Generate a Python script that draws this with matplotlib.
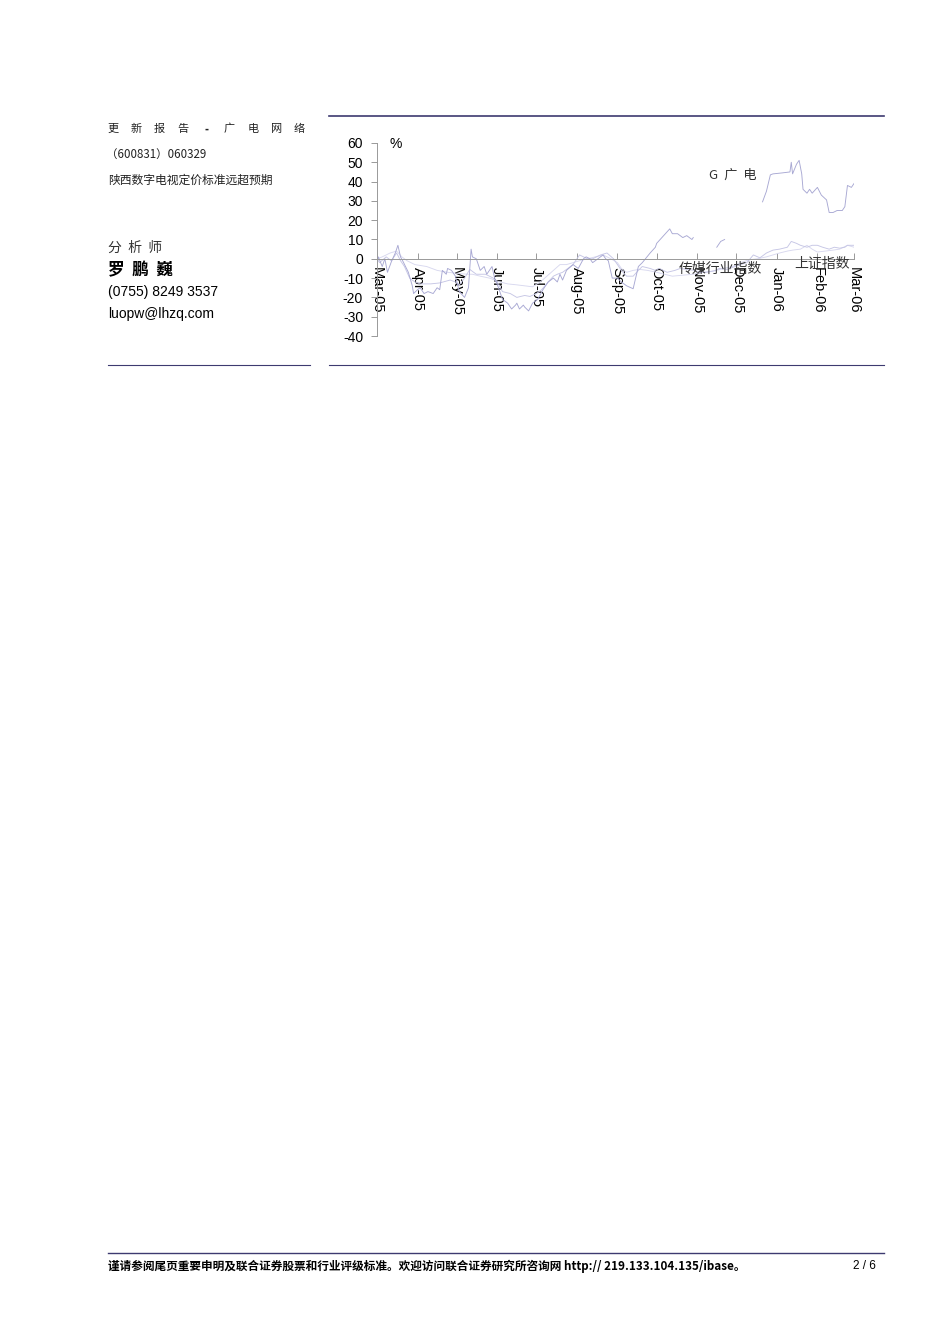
import numpy as np
import pandas as pd
import matplotlib
matplotlib.use('Agg')
import matplotlib.pyplot as plt

W, H = 950, 1344

# days since 2005-03-01 / percent change
gd_days = [0, 1, 4, 6, 8, 11, 14, 16, 18, 20, 24, 27, 28, 31, 33, 36, 39, 43, 46, 48,
           50, 53, 54, 57, 60, 63, 67, 70, 72, 73, 76, 79, 82, 84, 88, 90, 93, 96, 100, 103,
           106, 107, 109, 112, 113, 116, 119, 123, 127, 131, 135, 138, 140, 142, 145, 150, 154, 158, 160, 163,
           165, 169, 173, 175, 177, 180, 184, 187, 191, 196, 200, 203, 209, 213, 214, 218, 222, 224, 226, 230,
           234, 237, 241, 242, 243, 260, 263, 266, 267, 295, 298, 301, 303, 310, 316, 317, 318, 321, 323, 325,
           326, 329, 331, 333, 337, 340, 344, 346, 349, 352, 356, 358, 360, 363, 365]
gd_vals = [-2, 1, -4, 0, -7, -1.5, 3, 7, 1, -1.5, -7, -14, -18, -16, -15, -18, -17, -18, -15, -16,
           -6, -8, -5, -6, -9, -17, -20, -15, 5, 1, 0, -6, -4, -8, -4, -10, -15, -21, -23, -26,
           -24, -23, -26, -24, -25, -27, -23, -21, -16, -12, -10, -12, -8, -11, -6, -3, -5, 0, 1, 0,
           -2, 0, 2, 0, -1, -10, -10, -12, -14, -15.5, -4, -2, 3, 6, 8, 11, 14, 15.5, 13, 13,
           11, 12, 10, 11, np.nan, 6, 9, 10, np.nan, 29.5, 35, 43.5, 44, 44.5, 45, 50, 44, 49, 51, 44,
           36, 34, 36, 34, 37, 33, 30.5, 24, 24, 25, 25, 27, 38, 37, 39]

cm_days = [0, 2, 7, 11, 15, 18, 21, 25, 29, 33, 41, 48, 56, 60, 63, 67, 71, 76, 83, 89,
           93, 96, 102, 107, 113, 117, 122, 126, 131, 135, 138, 142, 146, 150, 155, 161, 165, 171, 176, 181,
           184, 187, 191, 196, 200, 203, 209, 213, 216, 222, 228, 232, 237, 243, 247, 252, 259, 262, 268, 274,
           278, 283, 288, 293, 298, 303, 308, 314, 317, 321, 324, 329, 333, 337, 341, 346, 350, 354, 358, 360, 365]
cm_vals = [0, -2, 1, -1, 3, -1, -4, -10, -12, -13, -13, -12.5, -11, -12, -13.5, -10, -5.5, -8, -8, -10,
           -13, -17, -18, -20, -19, -19.5, -18, -16, -12, -9, -8, -7, -5, -3, 2, 0, 0, 2, 3, 0,
           -3, -6, -9, -9, -6, -4, -5, -6, -5, -7, -6, -5, -5.5, -6, -7, -7, -6, -5, -5.5, -4,
           -3, -2, 2, 0.5, 3, 4.5, 5, 6, 9, 8, 7, 6, 7, 7, 6, 5, 6, 5.5, 6, 7, 7]

sz_days = [0, 4, 10, 15, 19, 23, 29, 38, 46, 54, 61, 69, 73, 79, 86, 94, 100, 107, 113, 119,
           125, 130, 135, 140, 145, 150, 155, 161, 167, 173, 179, 184, 187, 191, 196, 201, 207, 214, 220, 226,
           234, 242, 249, 257, 265, 272, 278, 285, 291, 298, 303, 308, 314, 318, 324, 329, 333, 337, 343, 349,
           354, 360, 365]
sz_vals = [0, 1, 3, 4, 1, -1, -3, -4, -6, -7, -7.5, -8, -8, -9, -10, -12, -13, -13.5, -14, -14.5,
           -12, -9, -6, -3, -3, -2, -1, 0, 1, 2, 0, -2, -5, -7, -6, -5.5, -6, -7, -8, -9,
           -8.5, -8, -7, -6.5, -5, -4, -2, -0.5, 0, 1, 2, 3, 4, 4.5, 5, 7, 5, 3.5, 4, 4.5,
           5, 7, 6]

month_days = [0, 31, 61, 92, 122, 153, 184, 214, 245, 275, 306, 337, 365]
month_labels = ['Mar-05', 'Apr-05', 'May-05', 'Jun-05', 'Jul-05', 'Aug-05', 'Sep-05',
                'Oct-05', 'Nov-05', 'Dec-05', 'Jan-06', 'Feb-06', 'Mar-06']
y_ticks = [60, 50, 40, 30, 20, 10, 0, -10, -20, -30, -40]
title_chars = ['更', '新', '报', '告', '-', '广', '电', '网', '络']

cjk = ['Noto Sans CJK SC', 'DejaVu Sans']
lat = ['Liberation Sans', 'Noto Sans CJK SC']

fig = plt.figure(figsize=(W / 100, H / 100), dpi=100)

def fx(px):
    return px / W

def fy(py):
    return 1 - py / H

# header / separator lines
navy = '#3d3a70'
fig.add_artist(plt.Line2D([fx(329), fx(884)], [fy(116), fy(116)], color=navy, lw=1.2))
fig.add_artist(plt.Line2D([fx(108), fx(310)], [fy(365), fy(365)], color=navy, lw=0.8))
fig.add_artist(plt.Line2D([fx(329), fx(884)], [fy(365), fy(365)], color=navy, lw=0.8))
fig.add_artist(plt.Line2D([fx(108), fx(884)], [fy(1253), fy(1253)], color=navy, lw=1.0))

# left column text
for i, ch in enumerate(title_chars):
    fig.text(fx(113 + i * 23.3), fy(129), ch, family=cjk, fontsize=8, va='center', ha='center',
             color='#222222', fontweight='bold' if ch == '-' else 'normal')
fig.text(fx(106), fy(154), '（600831）060329', family=cjk, fontsize=8.3, va='center', ha='left', color='#222222')
fig.text(fx(108), fy(180), '陕西数字电视定价标准远超预期', family=cjk, fontsize=8.5, va='center', ha='left',
         color='#222222')
fig.text(fx(108), fy(248), '分  析  师', family=cjk, fontsize=10, va='center', ha='left', color='#333333')
fig.text(fx(108), fy(270), '罗  鹏  巍', family=cjk, fontsize=12, fontweight='bold', va='center', ha='left')
fig.text(fx(108), fy(292), '(0755) 8249 3537', family=lat, fontsize=10, va='center', ha='left')
fig.text(fx(108), fy(314), 'luopw@lhzq.com', family=lat, fontsize=10, va='center', ha='left')

# footer
fig.text(fx(108), fy(1266), '谨请参阅尾页重要申明及联合证券股票和行业评级标准。欢迎访问联合证券研究所咨询网 http:// 219.133.104.135/ibase。',
         family=cjk, fontsize=8.4, fontweight='bold', va='center', ha='left')
fig.text(fx(876), fy(1266), '2 / 6', family=lat, fontsize=8.5, va='center', ha='right')

# chart
ax = fig.add_axes([fx(377), fy(336), fx(854) - fx(377), fy(143) - fy(336)])
for s in ['top', 'right']:
    ax.spines[s].set_visible(False)
ax.spines['bottom'].set_position(('data', 0))
ax.spines['bottom'].set_color('#999999')
ax.spines['left'].set_color('#999999')
ax.spines['left'].set_linewidth(0.7)
ax.spines['bottom'].set_linewidth(0.7)

ax.plot(sz_days, sz_vals, color='#d8d8ef', lw=0.65)
ax.plot(cm_days, cm_vals, color='#c6c6e5', lw=0.65)
ax.plot(gd_days, gd_vals, color='#a8a8d3', lw=0.65)

ax.set_xlim(0, 365)
ax.set_ylim(-40, 60)
ax.set_yticks(y_ticks)
ax.set_yticklabels([str(v) for v in y_ticks], family=lat, fontsize=10)
ax.set_xticks(month_days)
ax.set_xticklabels(month_labels, family=lat, fontsize=10.5, rotation=-90, va='top', ha='center')
ax.tick_params(axis='y', direction='out', length=4, width=0.7, color='#999999', pad=6)
ax.tick_params(axis='x', direction='in', length=4, width=0.7, color='#999999', pad=6, labelrotation=-90)
ax.patch.set_visible(False)

fig.text(fx(390), fy(144), '%', family=lat, fontsize=10, va='center', ha='left')
fig.text(fx(733), fy(175), 'G  广  电', family=cjk, fontsize=9.5, va='center', ha='center', color='#333333')
fig.text(fx(720), fy(269), '传媒行业指数', family=cjk, fontsize=10, va='center', ha='center', color='#333333')
fig.text(fx(822), fy(264), '上证指数', family=cjk, fontsize=10, va='center', ha='center', color='#333333')

fig.savefig('out.png', dpi=100)
